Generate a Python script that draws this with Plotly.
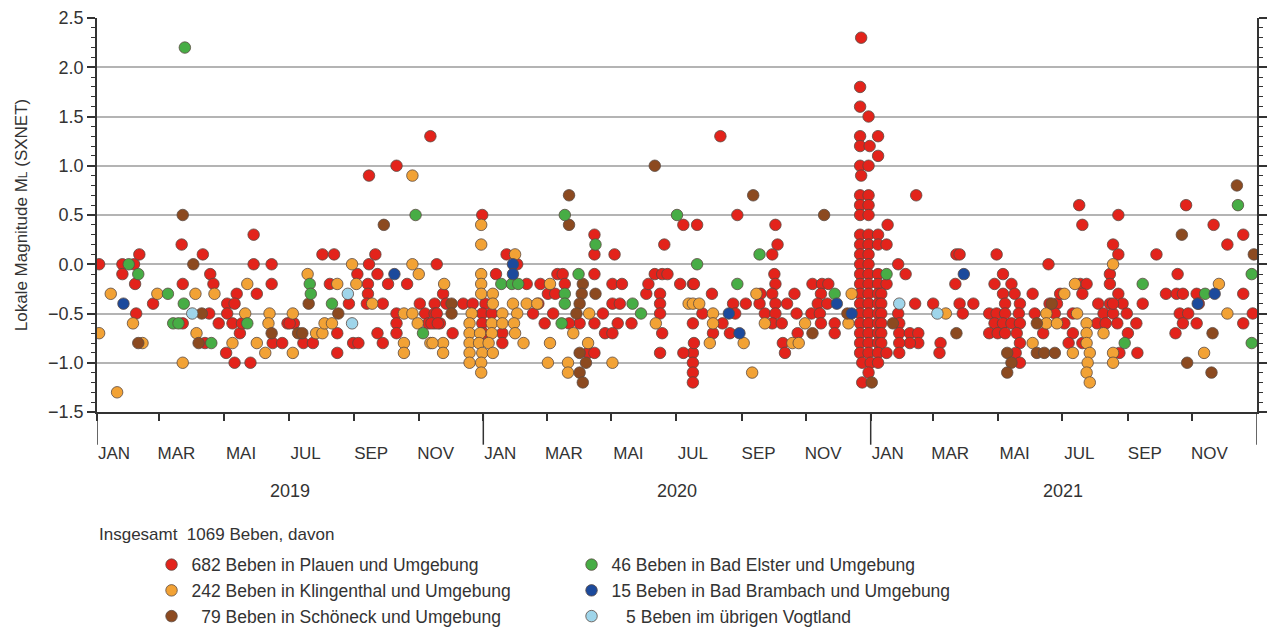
import pandas as pd
import plotly.graph_objects as go

# ---------------- data (day offset from 2019-01-01, local magnitude ML) ----------------
BASE = pd.Timestamp("2019-01-01")
years = [2019, 2020, 2021]
month_numbers = [1, 3, 5, 7, 9, 11]
month_labels = ["JAN", "MAR", "MAI", "JUL", "SEP", "NOV"]

plauen = [
    (2, 0.0), (24, 0.0), (24, -0.1), (35, 0.0), (40, 0.1), (36, -0.2), (37, -0.5), (53, -0.4), (81, -0.6), (80, 0.2), (81, -0.2),
    (100, 0.1), (107, -0.1), (110, -0.2), (106, -0.5), (102, -0.8), (115, -0.6), (123, -0.4), (123, -0.5), (122, -0.9),
    (132, -0.3), (130, -0.4), (128, -0.6), (135, -0.7), (130, -1.0), (137, -0.6), (145, -1.0), (148, 0.3), (148, 0.0), (151, -0.3),
    (165, 0.0), (165, -0.2), (166, -0.8), (175, -0.8), (180, -0.6), (186, -0.6), (182, -0.6), (195, -0.8), (204, -0.8),
    (213, 0.1), (224, 0.1), (220, -0.2), (227, -0.7), (227, -0.9), (238, -0.4), (242, -0.8), (247, -0.8), (246, -0.1),
    (257, 0.9), (263, 0.1), (257, 0.0), (265, -0.1), (256, -0.2), (256, -0.3), (255, -0.4), (270, -0.4), (275, -0.2), (265, -0.7), (270, -0.8),
    (283, 1.0), (315, 1.3), (293, -0.2), (283, -0.5), (283, -0.6), (283, -0.7), (305, -0.4), (310, -0.5), (313, -0.6),
    (319, -0.4), (319, -0.5), (319, -0.6), (324, -0.6), (321, 0.0), (327, -0.3), (336, -0.7), (346, -0.4), (355, -0.4),
    (364, 0.5), (387, 0.1), (397, 0.0), (377, -0.1), (406, -0.2), (419, -0.2), (435, -0.1), (426, -0.3), (433, -0.3),
    (330, -0.4), (367, -0.4), (417, -0.4), (321, -0.5), (364, -0.5), (373, -0.5), (412, -0.5), (431, -0.5),
    (316, -0.6), (322, -0.6), (364, -0.6), (423, -0.6), (365, -0.7), (383, -0.7), (383, -0.8),
    (440, -0.1), (442, -0.2), (470, 0.3), (470, 0.1), (470, -0.1), (489, 0.1), (487, -0.2), (496, -0.2), (487, -0.4), (494, -0.4),
    (478, -0.5), (492, -0.6), (505, -0.6), (519, -0.3), (521, -0.2), (527, -0.1), (534, -0.1), (539, -0.1), (536, 0.2),
    (554, 0.4), (567, 0.4), (551, -0.2), (563, -0.2), (532, -0.3), (532, -0.4), (532, -0.5), (534, -0.7), (532, -0.9),
    (563, -0.6), (563, -0.9), (563, -1.0), (563, -1.1), (563, -1.2), (554, -0.9), (464, -0.9), (470, -0.9), (480, -0.7), (487, -0.7),
    (470, -0.6), (456, -0.6), (446, -0.6),
    (589, 1.3), (605, 0.5), (641, 0.4), (643, 0.2), (638, 0.1), (564, -0.2), (640, -0.1), (641, -0.2),
    (581, -0.3), (627, -0.3), (638, -0.3), (659, -0.3), (676, -0.2), (685, -0.2), (691, -0.2), (684, -0.3),
    (601, -0.4), (613, -0.4), (626, -0.4), (641, -0.4), (652, -0.4), (681, -0.4), (690, -0.4),
    (572, -0.5), (603, -0.5), (631, -0.5), (641, -0.5), (661, -0.5), (675, -0.5), (683, -0.5),
    (591, -0.6), (638, -0.6), (647, -0.6), (684, -0.6), (697, -0.6), (582, -0.7), (598, -0.7), (662, -0.7), (697, -0.7),
    (648, -0.8), (650, -0.9), (564, -0.8),
    # December 2020 swarm
    (722, 2.3), (721, 1.8), (721, 1.6), (729, 1.5), (721, 1.3), (738, 1.3), (721, 1.2), (730, 1.2), (738, 1.1),
    (721, 1.0), (729, 1.0), (722, 0.9), (721, 0.7), (729, 0.7), (721, 0.6), (729, 0.6), (721, 0.5), (729, 0.5),
    (747, 0.4), (721, 0.3), (729, 0.3), (738, 0.3), (721, 0.2), (729, 0.2), (738, 0.2), (746, 0.2),
    (721, 0.1), (729, 0.1), (721, 0.0), (729, 0.0), (721, -0.1), (729, -0.1), (738, -0.1),
    (721, -0.2), (729, -0.2), (738, -0.2), (746, -0.2), (721, -0.3), (729, -0.3), (738, -0.3), (741, -0.3),
    (721, -0.4), (729, -0.4), (738, -0.4), (741, -0.4), (721, -0.5), (729, -0.5), (738, -0.5), (741, -0.5),
    (721, -0.6), (729, -0.6), (738, -0.6), (741, -0.6), (721, -0.7), (729, -0.7), (738, -0.7), (741, -0.7),
    (721, -0.8), (729, -0.8), (738, -0.8), (741, -0.8), (721, -0.9), (729, -0.9), (738, -0.9), (746, -0.9),
    (723, -1.0), (731, -1.0), (738, -1.0), (729, -1.1), (723, -1.2),
    (774, 0.7), (757, 0.0), (764, -0.1), (757, -0.5), (758, -0.6), (758, -0.7), (768, -0.7), (776, -0.7), (776, -0.8), (768, -0.8),
    (758, -0.8), (758, -0.9), (797, -0.8), (796, -0.9), (773, -0.4), (790, -0.4), (812, 0.1), (811, -0.2),
    (815, 0.1), (815, -0.4), (828, -0.4), (818, -0.5),
    (850, 0.1), (856, -0.1), (848, -0.2), (864, -0.2), (856, -0.3), (867, -0.3), (858, -0.4), (872, -0.4),
    (843, -0.5), (850, -0.5), (858, -0.5), (871, -0.5), (848, -0.6), (856, -0.6), (864, -0.6), (872, -0.6),
    (843, -0.7), (851, -0.7), (858, -0.7), (869, -0.7), (872, -0.8), (868, -0.9), (872, -1.0),
    (884, -0.3), (899, 0.0), (900, -0.4), (907, -0.4), (886, -0.5), (905, -0.5), (914, -0.6), (894, -0.7), (910, -0.3),
    (922, -0.5), (922, -0.7), (918, -0.8), (928, 0.6), (931, 0.4), (929, -0.2), (935, -0.2), (931, -0.3), (931, -0.8),
    (946, -0.4), (957, -0.4), (951, -0.5), (945, -0.6), (953, -0.6), (960, 0.2), (965, 0.1), (965, 0.5), (957, -0.1), (957, -0.2),
    (965, -0.3), (969, -0.4), (960, -0.5), (964, -0.6), (974, -0.7), (973, -0.5), (960, -0.4), (966, -0.9), (982, -0.6), (983, -0.9),
    (988, -0.4), (1001, 0.1), (1010, -0.3), (1020, -0.3), (1026, -0.3), (1021, -0.1), (1029, 0.6), (1023, -0.5), (1031, -0.5),
    (1026, -0.6), (1039, -0.6), (1019, -0.7), (1039, -0.3), (1041, -0.4), (1055, 0.4), (1068, 0.2), (1083, 0.3), (1083, -0.3),
    (1083, -0.6), (1092, -0.5),
]

klingenthal = [
    (2, -0.7), (13, -0.3), (19, -1.3), (34, -0.6), (43, -0.8), (57, -0.3), (81, -1.0), (93, -0.3), (94, -0.7), (111, -0.3),
    (128, -0.8), (140, -0.5), (142, -0.2), (151, -0.8), (159, -0.9), (163, -0.5), (162, -0.6), (185, -0.5), (185, -0.9),
    (207, -0.7), (213, -0.7), (215, -0.6), (222, -0.6), (199, -0.1), (227, -0.2), (241, 0.0), (245, -0.2), (260, -0.4),
    (298, 0.9), (298, 0.0), (304, -0.1), (290, -0.5), (290, -0.8), (290, -0.9), (298, -0.5), (303, -0.6), (315, -0.8), (328, -0.2),
    (327, -0.8), (327, -0.9),
    (363, 0.4), (363, 0.2), (395, 0.1), (363, -0.1), (363, -0.2), (363, -0.3), (428, -0.2), (374, -0.3), (374, -0.4), (393, -0.4), (406, -0.4),
    (354, -0.5), (383, -0.5), (397, -0.5), (352, -0.6), (373, -0.6), (383, -0.6), (394, -0.6), (352, -0.7), (362, -0.7), (373, -0.7), (395, -0.7),
    (317, -0.8), (352, -0.8), (361, -0.8), (370, -0.8), (403, -0.8), (428, -0.8), (352, -0.9), (364, -0.9), (374, -0.9), (352, -1.0), (363, -1.0),
    (426, -1.0), (363, -1.1),
    (465, -0.5), (416, -0.4), (464, -0.8), (450, -0.7), (445, -1.0), (445, -1.1), (487, -1.0), (528, -0.6), (559, -0.4),
    (623, -0.3), (713, -0.3), (563, -0.4), (569, -0.4), (582, -0.5), (582, -0.6), (631, -0.6), (669, -0.6), (710, -0.6), (579, -0.8), (611, -0.8),
    (657, -0.8), (663, -0.8), (619, -1.1),
    (802, -0.5), (884, -0.8), (897, -0.5), (897, -0.6), (907, -0.6), (914, -0.3), (926, -0.5), (922, -0.9), (924, -0.2),
    (935, -0.6), (935, -0.7), (935, -0.8), (938, -0.9), (936, -1.0), (935, -1.1), (938, -1.2), (951, -0.7), (960, 0.0), (960, -0.9), (960, -1.0),
    (1060, -0.2), (1046, -0.9), (1068, -0.5),
]

schoeneck = [
    (39, -0.8), (81, 0.5), (91, 0.0), (96, -0.8), (99, -0.5), (165, -0.7), (190, -0.7), (194, -0.7), (200, -0.4), (228, -0.5),
    (271, 0.4), (335, -0.4), (335, -0.5), (446, 0.7), (446, 0.4), (459, -0.2), (458, -0.3), (456, -0.4), (453, -0.5), (471, -0.3),
    (456, -0.9), (462, -1.0), (456, -1.1), (459, -1.2), (527, 1.0), (620, 0.7), (687, 0.5), (709, -0.5), (676, -0.7), (732, -1.2),
    (752, -0.6), (812, -0.7), (860, -0.9), (864, -1.0), (860, -1.1), (888, -0.9), (895, -0.9), (905, -0.9), (888, -0.6), (902, -0.4),
    (1025, 0.3), (1030, -1.0), (1054, -0.7), (1053, -1.1), (1077, 0.8), (1093, 0.1),
]

bad_elster = [
    (30, 0.0), (39, -0.1), (67, -0.3), (72, -0.6), (77, -0.6), (83, 2.2), (82, -0.4), (108, -0.8), (142, -0.6), (201, -0.2), (202, -0.3),
    (222, -0.4), (301, 0.5), (308, -0.7), (382, -0.2), (392, -0.2), (398, -0.2), (442, 0.5), (442, -0.3), (442, -0.4), (455, -0.1), (471, 0.2),
    (439, -0.6), (506, -0.4), (514, -0.5), (548, 0.5), (567, 0.0), (605, -0.2), (626, 0.1), (697, -0.3), (746, -0.1), (971, -0.8), (988, -0.2),
    (1047, -0.3), (1078, 0.6), (1091, -0.1), (1091, -0.8),
]

bad_brambach = [
    (25, -0.4), (281, -0.1), (393, 0.0), (393, -0.1), (597, -0.5), (607, -0.7), (699, -0.4), (713, -0.5), (819, -0.1),
    (1040, -0.4), (1056, -0.3),
]

vogtland = [(90, -0.5), (237, -0.3), (241, -0.6), (758, -0.4), (794, -0.5)]

series_names = [
    "682 Beben in Plauen und Umgebung",
    "242 Beben in Klingenthal und Umgebung",
    "\u200779 Beben in Schöneck und Umgebung",
    "46 Beben in Bad Elster und Umgebung",
    "15 Beben in Bad Brambach und Umgebung",
    "\u2007\u20085 Beben im übrigen Vogtland",
]
legend_title = "Insgesamt  1069 Beben, davon"
y_title = "Lokale Magnitude M<span style='font-size:12px'>L</span> (SXNET)"

# ---------------- styling ----------------
FONT = "Liberation Sans, Arial, sans-serif"
TXT = "#333333"
colors = ["#e3231b", "#f2a235", "#8c4a20", "#47ad45", "#1c4a9c", "#9fd5ea"]
legend_ranks = [1, 3, 5, 2, 4, 6]
datasets = [plauen, klingenthal, schoeneck, bad_elster, bad_brambach, vogtland]

fig = go.Figure()
for data, name, col, rank in zip(datasets, series_names, colors, legend_ranks):
    days = [d for d, _ in data]
    mags = [m for _, m in data]
    fig.add_trace(go.Scatter(
        x=[BASE + pd.Timedelta(days=d) for d in days],
        y=mags,
        mode="markers",
        name=name,
        legendrank=rank,
        marker=dict(size=11.5, color=col, line=dict(color="#5a4a42", width=0.8)),
        hoverinfo="skip",
    ))

tick_dates = [pd.Timestamp(year=y, month=m, day=1) for y in years for m in month_numbers]
tick_text = month_labels * len(years)
year_bounds = [pd.Timestamp(year=y, month=1, day=1) for y in years + [years[-1] + 1]]

shapes = []
for yb in year_bounds:
    shapes.append(dict(type="line", xref="x", yref="paper", x0=yb, x1=yb, y0=0, y1=-0.083,
                       line=dict(color=TXT, width=1.5), layer="above"))

annotations = []
for y in years:
    annotations.append(dict(x=pd.Timestamp(year=y, month=7, day=2), y=-0.20, xref="x", yref="paper",
                            text=str(y), showarrow=False, xanchor="center", yanchor="middle",
                            font=dict(size=18, color=TXT, family=FONT)))
annotations.append(dict(x=0, y=-0.31, xref="paper", yref="paper", text=legend_title, showarrow=False,
                        xanchor="left", yanchor="middle", font=dict(size=17, color=TXT, family=FONT)))

fig.update_layout(
    width=1272, height=631,
    margin=dict(l=97, r=15, t=18, b=219, autoexpand=False),
    paper_bgcolor="white", plot_bgcolor="white",
    font=dict(family=FONT, color=TXT, size=17),
    showlegend=True,
    legend=dict(orientation="h", x=0.047, xanchor="left", y=-0.342, yanchor="top",
                entrywidth=375, entrywidthmode="pixels", font=dict(size=17.5, color=TXT),
                itemsizing="trace", bgcolor="rgba(0,0,0,0)", traceorder="normal"),
    shapes=shapes,
    annotations=annotations,
    xaxis=dict(
        type="date",
        range=[year_bounds[0], year_bounds[-1]],
        tickmode="array", tickvals=tick_dates, ticktext=tick_text,
        ticks="outside", ticklen=7, tickwidth=1.5, tickcolor=TXT,
        showline=True, linecolor=TXT, linewidth=1.5,
        showgrid=False, zeroline=False,
        ticklabelshift=17, ticklabelstandoff=18,
        tickfont=dict(size=17, color=TXT),
    ),
    yaxis=dict(
        range=[-1.5, 2.5],
        tickmode="linear", tick0=-1.5, dtick=0.5, tickformat=".1f",
        ticks="outside", ticklen=8, tickwidth=1.5, tickcolor=TXT,
        minor=dict(dtick=0.1, ticks="outside", ticklen=4, tickwidth=1, tickcolor=TXT, showgrid=False),
        showline=True, linecolor=TXT, linewidth=1.5, mirror="ticks",
        showgrid=True, gridcolor="#b4b4b4", gridwidth=1.5, zeroline=False,
        tickfont=dict(size=18, color=TXT),
        title=dict(text=y_title, font=dict(size=17, color=TXT), standoff=16),
    ),
)

fig.write_html("out.html")
